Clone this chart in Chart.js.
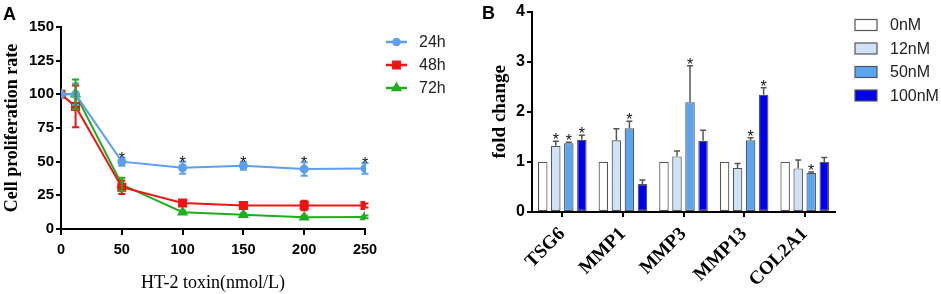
<!DOCTYPE html>
<html>
<head>
<meta charset="utf-8">
<script src="https://cdn.jsdelivr.net/npm/chart.js@4.4.0/dist/chart.umd.min.js"></script>
<style>
  body { margin: 0; background: #fff; }
  #wrap { position: relative; width: 941px; height: 294px; overflow: hidden; }
  #boxA { position: absolute; left: 0; top: 0; width: 470px; height: 294px; }
  #boxB { position: absolute; left: 470px; top: 0; width: 471px; height: 294px; }
  .tag { position: absolute; font: bold 18px "Liberation Sans", Arial, sans-serif; color: #000; line-height: 1; }
</style>
</head>
<body>
<div id="wrap">
  <div id="boxA"><canvas id="chartA"></canvas></div>
  <div id="boxB"><canvas id="chartB"></canvas></div>
  <div class="tag" style="left:3px;top:5px;">A</div>
  <div class="tag" style="left:482px;top:4px;">B</div>
</div>
<script>
// panel A - proliferation vs dose
const doses = [0, 12, 50, 100, 150, 200, 250];
const timeLabels = ['24h', '48h', '72h'];
const rate24 = [100, 100, 50, 45.5, 47, 44.5, 45];
const rate48 = [100, 91, 31, 19.3, 17.5, 17.5, 17.5];
const rate72 = [100, 100, 33, 12.5, 10.5, 8.8, 9];
const err24 = [0, 8, 3, 4.5, 3, 5, 4];
const err48 = [0, 15.5, 5, 1.5, 1.5, 3.5, 1.5];
const err72 = [0, 11, 5, 1, 1, 1, 1];
const star24 = [0, 0, 1, 1, 1, 1, 1];
const yTicksA = [0, 25, 50, 75, 100, 125, 150];

// panel B - fold change per gene
const genes = ['TSG6', 'MMP1', 'MMP3', 'MMP13', 'COL2A1'];
const doseLabels = ['0nM', '12nM', '50nM', '100nM'];
const fold0 = [1, 1, 1, 1, 1];
const fold12 = [1.32, 1.43, 1.11, 0.88, 0.87];
const fold50 = [1.37, 1.67, 2.19, 1.43, 0.78];
const fold100 = [1.44, 0.56, 1.42, 2.34, 1.0];
const sem0 = [0, 0, 0, 0, 0];
const sem12 = [0.09, 0.23, 0.11, 0.09, 0.17];
const sem50 = [0.02, 0.14, 0.73, 0.05, 0.02];
const sem100 = [0.09, 0.08, 0.21, 0.14, 0.09];
const sig0 = [0, 0, 0, 0, 0];
const sig12 = [1, 0, 0, 0, 0];
const sig50 = [1, 1, 1, 1, 1];
const sig100 = [1, 0, 0, 1, 0];

const sans = '"Liberation Sans", Arial, sans-serif';
const serif = '"Liberation Serif", "Times New Roman", serif';
const lineColors = ['#5b9ff0', '#f01414', '#1fae1f'];
const pointStyles = ['circle', 'rect', 'triangle'];
const pointSizes = [3.5, 5, 4.5];
const barColors = ['#ffffff', '#cfe2f8', '#5aa5f0', '#0000f0'];

function pts(ys) {
  return doses.map((d, i) => ({x: d, y: ys[i]}));
}

const errPluginA = {
  id: 'errA',
  afterDatasetsDraw(chart) {
    const ctx = chart.ctx;
    const xs = chart.scales.x, ys = chart.scales.y;
    const errs = [err24, err48, err72];
    ctx.save();
    chart.data.datasets.forEach((ds, k) => {
      ctx.strokeStyle = lineColors[k];
      ctx.lineWidth = 2;
      ds.data.forEach((p, i) => {
        const e = errs[k][i];
        if (!e) return;
        const x = xs.getPixelForValue(p.x);
        const top = ys.getPixelForValue(p.y + e);
        const bot = ys.getPixelForValue(p.y - e);
        ctx.beginPath();
        ctx.moveTo(x, top); ctx.lineTo(x, bot);
        ctx.moveTo(x - 3.5, top); ctx.lineTo(x + 3.5, top);
        ctx.moveTo(x - 3.5, bot); ctx.lineTo(x + 3.5, bot);
        ctx.stroke();
      });
    });
    // asterisks over 24h
    ctx.fillStyle = '#111';
    ctx.font = '16px ' + sans;
    ctx.textAlign = 'center';
    ctx.textBaseline = 'alphabetic';
    doses.forEach((d, i) => {
      if (!star24[i]) return;
      const x = xs.getPixelForValue(d);
      const y = ys.getPixelForValue(rate24[i] + err24[i]);
      ctx.fillText('*', x, y + 6);
    });
    // legend
    ctx.font = '16px ' + sans;
    ctx.textAlign = 'left';
    ctx.textBaseline = 'middle';
    timeLabels.forEach((t, k) => {
      const y = 42 + k * 23;
      ctx.strokeStyle = lineColors[k];
      ctx.fillStyle = lineColors[k];
      ctx.lineWidth = 2.5;
      ctx.beginPath();
      ctx.moveTo(386, y); ctx.lineTo(407, y);
      ctx.stroke();
      Chart.helpers.drawPoint(ctx, {pointStyle: pointStyles[k], radius: pointSizes[k] - 0.5, rotation: 0, borderWidth: 1}, 396.5, y);
      ctx.fillStyle = '#222';
      ctx.fillText(t, 419, y + 1);
    });
    ctx.restore();
  }
};

const errPluginB = {
  id: 'errB',
  afterDatasetsDraw(chart) {
    const ctx = chart.ctx;
    const ys = chart.scales.y;
    const sems = [sem0, sem12, sem50, sem100];
    const sigs = [sig0, sig12, sig50, sig100];
    ctx.save();
    chart.data.datasets.forEach((ds, k) => {
      const meta = chart.getDatasetMeta(k);
      meta.data.forEach((bar, i) => {
        const e = sems[k][i];
        const x = bar.x;
        const top = ys.getPixelForValue(ds.data[i] + e);
        if (e) {
          ctx.strokeStyle = '#555';
          ctx.lineWidth = 1.5;
          ctx.beginPath();
          ctx.moveTo(x, bar.y); ctx.lineTo(x, top);
          ctx.moveTo(x - 3, top); ctx.lineTo(x + 3, top);
          ctx.stroke();
        }
        if (sigs[k][i]) {
          ctx.fillStyle = '#111';
          ctx.font = '16px ' + sans;
          ctx.textAlign = 'center';
          ctx.textBaseline = 'alphabetic';
          ctx.fillText('*', x, top + 4);
        }
      });
    });
    // legend
    ctx.font = '16px ' + sans;
    ctx.textBaseline = 'middle';
    ctx.textAlign = 'left';
    doseLabels.forEach((t, k) => {
      const y = 25 + k * 23.5;
      ctx.fillStyle = barColors[k];
      ctx.strokeStyle = '#555';
      ctx.lineWidth = 1.2;
      ctx.fillRect(385, y - 5.5, 22, 11);
      ctx.strokeRect(385, y - 5.5, 22, 11);
      ctx.fillStyle = '#222';
      ctx.fillText(t, 420, y + 1);
    });
    ctx.restore();
  }
};

new Chart(document.getElementById('chartA'), {
  type: 'line',
  data: {
    datasets: [rate24, rate48, rate72].map((r, k) => ({
      label: timeLabels[k],
      data: pts(r),
      borderColor: lineColors[k],
      backgroundColor: lineColors[k],
      borderWidth: 2,
      pointStyle: pointStyles[k],
      pointRadius: pointSizes[k],
      pointBackgroundColor: lineColors[k],
      pointBorderColor: lineColors[k],
      tension: 0
    }))
  },
  options: {
    responsive: true,
    maintainAspectRatio: false,
    animation: false,
    layout: {padding: {top: 27, right: 105, left: 0, bottom: 0}},
    plugins: {legend: {display: false}, tooltip: {enabled: false}},
    scales: {
      x: {
        type: 'linear',
        min: 0, max: 250,
        afterFit(s) { s.height = 65; },
        ticks: {stepSize: 50, color: '#000', padding: 6, font: {family: sans, size: 14.5, weight: 'bold'}},
        grid: {drawOnChartArea: false, drawTicks: true, tickLength: 6, color: '#000', lineWidth: 2},
        border: {color: '#000', width: 2},
        title: {display: true, text: 'HT-2 toxin(nmol/L)', color: '#000', padding: {top: 0, bottom: 0}, font: {family: serif, size: 18}}
      },
      y: {
        min: 0, max: 150,
        afterFit(s) { s.width = 61; },
        afterBuildTicks(s) { s.ticks = yTicksA.map(v => ({value: v})); },
        ticks: {color: '#000', padding: 2, font: {family: sans, size: 15, weight: 'bold'}},
        grid: {drawOnChartArea: false, drawTicks: true, tickLength: 5, color: '#000', lineWidth: 2},
        border: {color: '#000', width: 2},
        title: {display: true, text: 'Cell proliferation rate', color: '#000', padding: {top: 2, bottom: 0}, font: {family: serif, size: 18, weight: 'bold'}}
      }
    }
  },
  plugins: [errPluginA]
});

new Chart(document.getElementById('chartB'), {
  type: 'bar',
  data: {
    labels: genes,
    datasets: [fold0, fold12, fold50, fold100].map((f, k) => ({
      label: doseLabels[k],
      data: f,
      backgroundColor: barColors[k],
      borderColor: '#555',
      borderWidth: 1.2,
      borderSkipped: false,
      categoryPercentage: 0.86,
      barPercentage: 0.73
    }))
  },
  options: {
    responsive: true,
    maintainAspectRatio: false,
    animation: false,
    layout: {padding: {top: 11, right: 106, left: 0, bottom: 0}},
    plugins: {legend: {display: false}, tooltip: {enabled: false}},
    scales: {
      x: {
        afterFit(s) { s.height = 82; },
        ticks: {color: '#000', padding: 6, minRotation: 45, maxRotation: 45, font: {family: serif, size: 19, weight: 'bold'}},
        grid: {offset: false, drawOnChartArea: false, drawTicks: true, tickLength: 5, color: '#000', lineWidth: 2},
        border: {color: '#000', width: 2}
      },
      y: {
        min: 0, max: 4,
        afterFit(s) { s.width = 62; },
        ticks: {stepSize: 1, color: '#000', padding: 2, font: {family: sans, size: 16, weight: 'bold'}},
        grid: {drawOnChartArea: false, drawTicks: true, tickLength: 5, color: '#000', lineWidth: 2},
        border: {color: '#000', width: 2},
        title: {display: true, text: 'fold change', color: '#000', padding: {top: 19, bottom: 0}, font: {family: serif, size: 19, weight: 'bold'}}
      }
    }
  },
  plugins: [errPluginB]
});
</script>
</body>
</html>
